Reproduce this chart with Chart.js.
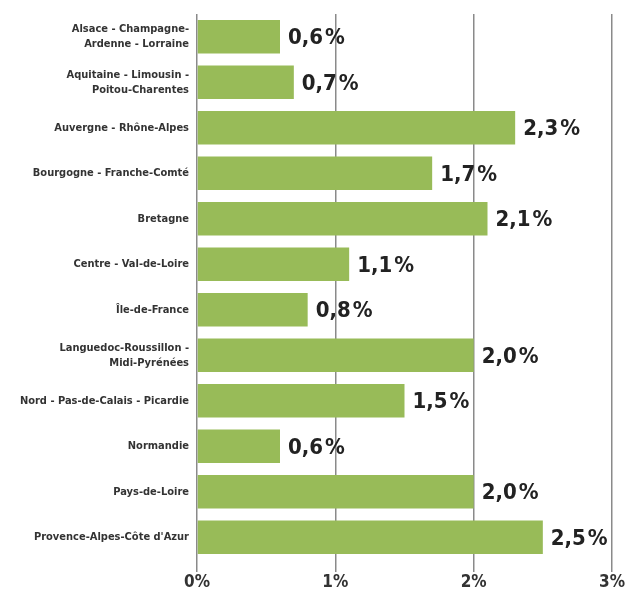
<!DOCTYPE html>
<html lang="fr">
<head>
  <meta charset="UTF-8">
  <title>Régions</title>
  <script src="https://cdn.jsdelivr.net/npm/chart.js"></script>
  <style>
    html, body { margin: 0; padding: 0; background: #fff; }
    #wrap { width: 631px; height: 596px; position: relative; }
  </style>
</head>
<body>
  <div id="wrap"><canvas id="chart"></canvas></div>

  <script>
    const regions = [
      ['Alsace - Champagne-', 'Ardenne - Lorraine'],
      ['Aquitaine - Limousin -', 'Poitou-Charentes'],
      'Auvergne - Rhône-Alpes',
      'Bourgogne - Franche-Comté',
      'Bretagne',
      'Centre - Val-de-Loire',
      'Île-de-France',
      ['Languedoc-Roussillon -', 'Midi-Pyrénées'],
      'Nord - Pas-de-Calais - Picardie',
      'Normandie',
      'Pays-de-Loire',
      'Provence-Alpes-Côte d\'Azur'
    ];
    const values = [0.6, 0.7, 2.3, 1.7, 2.1, 1.1, 0.8, 2.0, 1.5, 0.6, 2.0, 2.5];
    const ticks = [0, 1, 2, 3];

    const fmt = v => v.toFixed(1).replace('.', ',') + '\u200a%';

    // value labels at the end of each bar
    const valueLabels = {
      id: 'valueLabels',
      afterDatasetsDraw(chart) {
        const ctx = chart.ctx;
        const meta = chart.getDatasetMeta(0);
        ctx.save();
        ctx.font = 'bold 22px "DejaVu Sans Condensed", "Open Sans", sans-serif';
        ctx.fillStyle = '#222';
        ctx.textAlign = 'left';
        ctx.textBaseline = 'middle';
        meta.data.forEach((bar, i) => {
          ctx.fillText(fmt(values[i]), bar.x + 8, bar.y + 2);
        });
        ctx.restore();
      }
    };

    new Chart(document.getElementById('chart'), {
      type: 'bar',
      data: {
        labels: regions,
        datasets: [{
          data: values,
          backgroundColor: '#98bb58',
          borderWidth: 0,
          categoryPercentage: 0.74,
          barPercentage: 1
        }]
      },
      options: {
        indexAxis: 'y',
        responsive: true,
        maintainAspectRatio: false,
        animation: false,
        layout: { padding: { top: 14, right: 19, left: 0, bottom: 0 } },
        plugins: {
          legend: { display: false },
          tooltip: { enabled: false }
        },
        scales: {
          x: {
            min: 0,
            max: 3,
            afterBuildTicks(scale) { scale.ticks = ticks.map(v => ({ value: v })); },
            grid: {
              color: '#8a8a8a',
              lineWidth: 1.5,
              drawTicks: true,
              tickLength: 12,
              tickColor: '#8a8a8a'
            },
            border: { display: false },
            ticks: {
              callback: v => v + '%',
              font: { family: '"DejaVu Sans Condensed", "Open Sans", sans-serif', size: 17, weight: 'bold' },
              color: '#333',
              padding: 0,
              maxRotation: 0
            },
            afterFit(scale) { scale.height = 36; }
          },
          y: {
            grid: { display: false },
            border: { display: false },
            ticks: {
              font: { family: '"DejaVu Sans Condensed", "Liberation Sans Narrow", sans-serif', size: 11, weight: 'bold', lineHeight: 1.35 },
              color: '#333',
              padding: 0,
              autoSkip: false
            },
            afterFit(scale) { scale.width = 197; }
          }
        }
      },
      plugins: [valueLabels]
    });
  </script>
</body>
</html>
